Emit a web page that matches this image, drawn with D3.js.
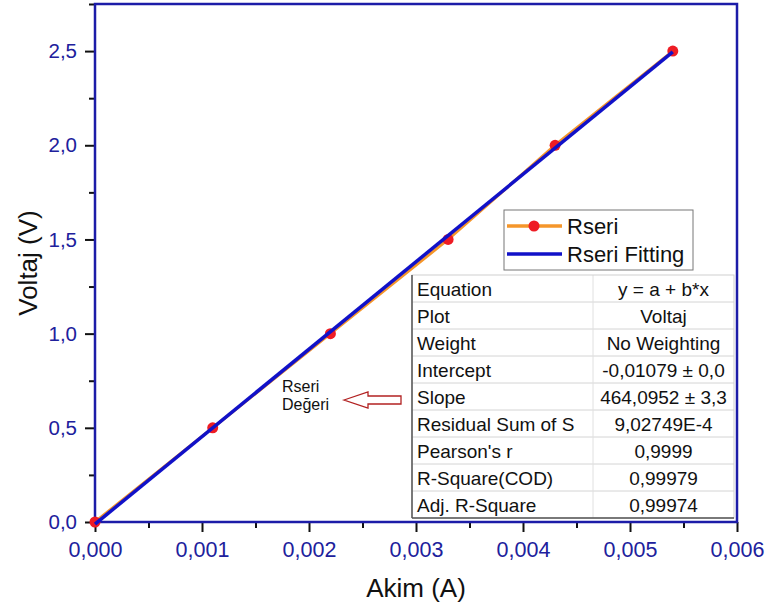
<!DOCTYPE html>
<html>
<head>
<meta charset="utf-8">
<script src="https://cdn.jsdelivr.net/npm/d3@7"></script>
<style>
  body { margin: 0; background: #fff; }
  text { font-family: "Liberation Sans", Arial, sans-serif; }
</style>
</head>
<body>
<div id="chart"></div>
<script>
// measured data
let akim = [0, 0.0011, 0.0022, 0.0033, 0.0043, 0.0054];
let voltaj = [0, 0.5, 1.0, 1.5, 2.0, 2.5];

// linear fit y = a + b*x
let fit_a = -0.01079;
let fit_b = 464.0952;
let fit_range = [0, 0.0054];

let x_ticks = [0, 0.001, 0.002, 0.003, 0.004, 0.005, 0.006];
let x_tick_labels = ["0,000", "0,001", "0,002", "0,003", "0,004", "0,005", "0,006"];
let y_ticks = [0, 0.5, 1.0, 1.5, 2.0, 2.5];
let y_tick_labels = ["0,0", "0,5", "1,0", "1,5", "2,0", "2,5"];

let legend_names = ["Rseri", "Rseri Fitting"];

let table_labels = ["Equation", "Plot", "Weight", "Intercept", "Slope",
                    "Residual Sum of S", "Pearson's r", "R-Square(COD)", "Adj. R-Square"];
let table_values = ["y = a + b*x", "Voltaj", "No Weighting", "-0,01079 \u00b1 0,0",
                    "464,0952 \u00b1 3,3", "9,02749E-4", "0,9999", "0,99979", "0,99974"];

let chart_width = 769;
let chart_height = 612;

let margin_left = 95, margin_right = 32, margin_top = 4, margin_bottom = 90;
let width = chart_width - margin_left - margin_right;
let height = chart_height - margin_top - margin_bottom;

let axis_blue = "#1c1ca8";
let tick_blue = "#20209c";

let svg = d3.select("#chart").append("svg")
    .attr("width", chart_width)
    .attr("height", chart_height);

let g = svg.append("g")
    .attr("transform", "translate(" + margin_left + "," + margin_top + ")");

let xScale = d3.scaleLinear().domain([0, 0.006]).range([0, width]);
let yScale = d3.scaleLinear().domain([0, 2.75]).range([height, 0]);

// minor ticks
let x_minor = d3.range(0, 0.0061, 0.0005).filter(function(d, i) { return i % 2 === 1; });
let y_minor = d3.range(0, 2.76, 0.25).filter(function(d, i) { return i % 2 === 1; });

function style_axis(sel, font_px) {
    sel.select(".domain").remove();
    sel.selectAll(".tick line").attr("stroke", "#111").attr("stroke-width", 2);
    sel.selectAll(".tick text")
        .attr("fill", tick_blue)
        .style("font-size", font_px + "px");
}

let x_axis = g.append("g")
    .attr("transform", "translate(0," + height + ")")
    .call(d3.axisBottom(xScale).tickValues(x_ticks).tickSize(10).tickPadding(10)
        .tickFormat(function(d, i) { return x_tick_labels[i]; }));
style_axis(x_axis, 21.5);

g.append("g")
    .attr("transform", "translate(0," + height + ")")
    .call(d3.axisBottom(xScale).tickValues(x_minor).tickSize(6).tickFormat(""))
    .call(style_axis, 20);

let y_axis = g.append("g")
    .call(d3.axisLeft(yScale).tickValues(y_ticks).tickSize(10).tickPadding(8)
        .tickFormat(function(d, i) { return y_tick_labels[i]; }));
style_axis(y_axis, 20.5);

g.append("g")
    .call(d3.axisLeft(yScale).tickValues(y_minor).tickSize(6).tickFormat(""))
    .call(style_axis, 20);

// frame
g.append("rect")
    .attr("x", 0).attr("y", 0)
    .attr("width", width).attr("height", height)
    .attr("fill", "none")
    .attr("stroke", axis_blue)
    .attr("stroke-width", 2.5);

// data line
let pts = akim.map(function(d, i) { return [d, voltaj[i]]; });
let line = d3.line()
    .x(function(d) { return xScale(d[0]); })
    .y(function(d) { return yScale(d[1]); });

g.append("path")
    .datum(pts)
    .attr("d", line)
    .attr("fill", "none")
    .attr("stroke", "#f5962a")
    .attr("stroke-width", 3);

g.selectAll(".pt")
    .data(pts)
    .enter()
    .append("circle")
    .attr("class", "pt")
    .attr("cx", function(d) { return xScale(d[0]); })
    .attr("cy", function(d) { return yScale(d[1]); })
    .attr("r", 5.5)
    .attr("fill", "#ee1c24");

let fit_pts = fit_range.map(function(x) { return [x, fit_a + fit_b * x]; });
g.append("path")
    .datum(fit_pts)
    .attr("d", line)
    .attr("fill", "none")
    .attr("stroke", "#1111c8")
    .attr("stroke-width", 3.5);

// axis titles
svg.append("text")
    .attr("x", margin_left + width / 2)
    .attr("y", 597)
    .attr("text-anchor", "middle")
    .style("font-size", "26px")
    .attr("fill", "#111")
    .text("Akim (A)");

svg.append("text")
    .attr("transform", "translate(37," + 263 + ") rotate(-90)")
    .attr("text-anchor", "middle")
    .style("font-size", "26px")
    .attr("fill", "#111")
    .text("Voltaj (V)");

// legend
let lg = svg.append("g").attr("transform", "translate(504,210)");
lg.append("rect")
    .attr("width", 189).attr("height", 60)
    .attr("fill", "#fff")
    .attr("stroke", "#777")
    .attr("stroke-width", 1);

let legend_colors = ["#f5962a", "#1111c8"];
legend_names.forEach(function(name, i) {
    let ly = 16 + i * 28;
    lg.append("line")
        .attr("x1", 3).attr("x2", 58)
        .attr("y1", ly).attr("y2", ly)
        .attr("stroke", legend_colors[i])
        .attr("stroke-width", 3.5);
    if (i === 0) {
        lg.append("circle").attr("cx", 30).attr("cy", ly).attr("r", 5.5).attr("fill", "#ee1c24");
    }
    lg.append("text")
        .attr("x", 63).attr("y", ly + 8)
        .style("font-size", "22px")
        .attr("fill", "#111")
        .text(name);
});

// fit results table
let tx = 412, ty = 275, tw = 322, row_h = 27, col_split = 181;
let tg = svg.append("g").attr("transform", "translate(" + tx + "," + ty + ")");
let th = row_h * table_labels.length;

tg.append("rect")
    .attr("width", tw).attr("height", th)
    .attr("fill", "#fff");

table_labels.forEach(function(lab, i) {
    if (i > 0) {
        tg.append("line")
            .attr("x1", 0).attr("x2", tw)
            .attr("y1", i * row_h).attr("y2", i * row_h)
            .attr("stroke", "#d4d4d4").attr("stroke-width", 1);
    }
    tg.append("text")
        .attr("x", 5).attr("y", i * row_h + 21)
        .style("font-size", "19px")
        .attr("fill", "#111")
        .text(lab);
    tg.append("text")
        .attr("x", col_split + (tw - col_split) / 2).attr("y", i * row_h + 21)
        .attr("text-anchor", "middle")
        .style("font-size", "19px")
        .attr("fill", "#111")
        .text(table_values[i]);
});

tg.append("line")
    .attr("x1", col_split).attr("x2", col_split)
    .attr("y1", 0).attr("y2", th)
    .attr("stroke", "#e0e0e0");
tg.append("rect")
    .attr("width", tw).attr("height", th)
    .attr("fill", "none")
    .attr("stroke", "#cfcfcf");
tg.append("line")
    .attr("x1", 0).attr("x2", 0).attr("y1", 0).attr("y2", th)
    .attr("stroke", "#555").attr("stroke-width", 1.5);
tg.append("line")
    .attr("x1", 0).attr("x2", tw).attr("y1", th).attr("y2", th)
    .attr("stroke", "#555").attr("stroke-width", 1.5);

// annotation
svg.append("text")
    .attr("x", 282).attr("y", 392)
    .style("font-size", "16px")
    .attr("fill", "#111")
    .text("Rseri");
svg.append("text")
    .attr("x", 282).attr("y", 410)
    .style("font-size", "16px")
    .attr("fill", "#111")
    .text("De\u011feri");

let arrow_pts = [[344, 400], [368, 392], [368, 396], [401, 396], [401, 404], [368, 404], [368, 408]];
svg.append("path")
    .attr("d", d3.line()(arrow_pts) + "Z")
    .attr("fill", "#fff")
    .attr("stroke", "#b22222")
    .attr("stroke-width", 1.3);
</script>
</body>
</html>
